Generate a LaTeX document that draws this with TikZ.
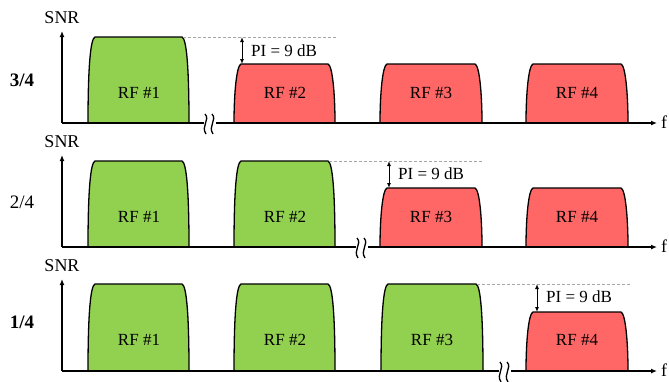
\documentclass[tikz,border=0pt]{standalone}
\usepackage{fontspec}
\setmainfont{Liberation Serif}
\usetikzlibrary{arrows.meta}
\definecolor{bgreen}{HTML}{92D050}
\definecolor{bred}{HTML}{FF6666}
\definecolor{dgray}{HTML}{A6A6A6}
\tikzset{
  axisline/.style={line width=1.6pt, black},
  axisarrow/.style={axisline, -{Latex[length=6pt,width=5pt]}},
  blockline/.style={draw=black, line width=1.3pt, line join=round},
  greenblk/.style={blockline, fill=bgreen},
  redblk/.style={blockline, fill=bred},
  refline/.style={dgray, line width=0.8pt, dash pattern=on 3pt off 2pt},
  piarrow/.style={line width=1pt, {Latex[length=5pt,width=4pt]}-{Latex[length=5pt,width=4pt]}},
  lbl/.style={font=\fontsize{17}{17}\selectfont, inner sep=0pt},
  axlbl/.style={font=\fontsize{18}{18}\selectfont, inner sep=0pt},
  frac/.style={font=\fontsize{19}{19}\selectfont, inner sep=0pt},
  brk/.style={line width=1.3pt, black}
}
\newcommand{\rfblock}[5]{% style, x1, x2, ytop, ybase
  \path[#1] (#2,#5) .. controls (#2,#4+30) and (#2+2.5,#4+1.5) .. (#2+7,#4)
     -- (#3-7,#4) .. controls (#3-2.5,#4+1.5) and (#3,#4+30) .. (#3,#5) -- cycle;}
\newcommand{\brksym}[2]{% xc, base
  \draw[brk] (#1,#2-9) .. controls (#1+5.5,#2-3) and (#1-4.5,#2+3) .. (#1+1,#2+11);
  \draw[brk] (#1+7,#2-9) .. controls (#1+12.5,#2-3) and (#1+2.5,#2+3) .. (#1+8,#2+11);}
\begin{document}
\begin{tikzpicture}[x=1pt,y=-1pt]
\useasboundingbox (0,0) rectangle (669,381);

% ---------------- Panel 1 (b = 123) ----------------
\node[axlbl] (snr1) at (62,18) {SNR};
\node[frac] (f1) at (22,80) {\bfseries 3/4};
\rfblock{greenblk}{88}{189}{37}{123}
\rfblock{redblk}{234}{335}{64}{123}
\rfblock{redblk}{380}{482}{64}{123}
\rfblock{redblk}{526}{628}{64}{123}
\coordinate (o1) at (62,123);
\coordinate (y1) at (62,31);
\coordinate (xa1) at (204,123);
\coordinate (xb1) at (216,123);
\coordinate (xe1) at (657,123);
\draw[axisarrow] (o1) -- (y1);
\draw[axisline] (o1) -- (xa1);
\draw[axisarrow] (xb1) -- (xe1);
\brksym{205}{123}
\node[axlbl] (fa) at (664,122) {f};
\coordinate (d1a) at (183,37);
\coordinate (d1b) at (336,37);
\draw[refline] (d1a) -- (d1b);
\coordinate (p1t) at (242,37);
\coordinate (p1b) at (242,64);
\draw[piarrow] (p1t) -- (p1b);
\node[lbl, anchor=west] (pi1) at (251,51) {PI = 9 dB};
\node[lbl] (r11) at (139,93) {RF \#1};
\node[lbl] (r12) at (285,93) {RF \#2};
\node[lbl] (r13) at (431,93) {RF \#3};
\node[lbl] (r14) at (577,93) {RF \#4};

% ---------------- Panel 2 (b = 247) ----------------
\node[axlbl] (snr2) at (62,142) {SNR};
\node[frac] (f2) at (22,202) {2/4};
\rfblock{greenblk}{88}{189}{161}{247}
\rfblock{greenblk}{234}{335}{161}{247}
\rfblock{redblk}{380}{482}{188}{247}
\rfblock{redblk}{526}{628}{188}{247}
\coordinate (o2) at (62,247);
\coordinate (y2) at (62,155);
\coordinate (xa2) at (356,247);
\coordinate (xb2) at (368,247);
\coordinate (xe2) at (657,247);
\draw[axisarrow] (o2) -- (y2);
\draw[axisline] (o2) -- (xa2);
\draw[axisarrow] (xb2) -- (xe2);
\brksym{357}{247}
\node[axlbl] (fb) at (664,246) {f};
\coordinate (d2a) at (329,161);
\coordinate (d2b) at (482,161);
\draw[refline] (d2a) -- (d2b);
\coordinate (p2t) at (389,161);
\coordinate (p2b) at (389,188);
\draw[piarrow] (p2t) -- (p2b);
\node[lbl, anchor=west] (pi2) at (398,174) {PI = 9 dB};
\node[lbl] (r21) at (139,217) {RF \#1};
\node[lbl] (r22) at (285,217) {RF \#2};
\node[lbl] (r23) at (431,217) {RF \#3};
\node[lbl] (r24) at (577,217) {RF \#4};

% ---------------- Panel 3 (b = 371) ----------------
\node[axlbl] (snr3) at (62,266) {SNR};
\node[frac] (f3) at (22,322) {\bfseries 1/4};
\rfblock{greenblk}{88}{189}{284}{371}
\rfblock{greenblk}{234}{335}{284}{371}
\rfblock{greenblk}{381}{483}{284}{371}
\rfblock{redblk}{526}{628}{312}{371}
\coordinate (o3) at (62,371);
\coordinate (y3) at (62,279);
\coordinate (xa3) at (499,371);
\coordinate (xb3) at (511,371);
\coordinate (xe3) at (657,371);
\draw[axisarrow] (o3) -- (y3);
\draw[axisline] (o3) -- (xa3);
\draw[axisarrow] (xb3) -- (xe3);
\brksym{500}{371}
\node[axlbl] (fc) at (664,370) {f};
\coordinate (d3a) at (477,284);
\coordinate (d3b) at (630,284);
\draw[refline] (d3a) -- (d3b);
\coordinate (p3t) at (537,284);
\coordinate (p3b) at (537,312);
\draw[piarrow] (p3t) -- (p3b);
\node[lbl, anchor=west] (pi3) at (546,297) {PI = 9 dB};
\node[lbl] (r31) at (139,340) {RF \#1};
\node[lbl] (r32) at (285,340) {RF \#2};
\node[lbl] (r33) at (432,340) {RF \#3};
\node[lbl] (r34) at (577,340) {RF \#4};
\end{tikzpicture}
\end{document}
